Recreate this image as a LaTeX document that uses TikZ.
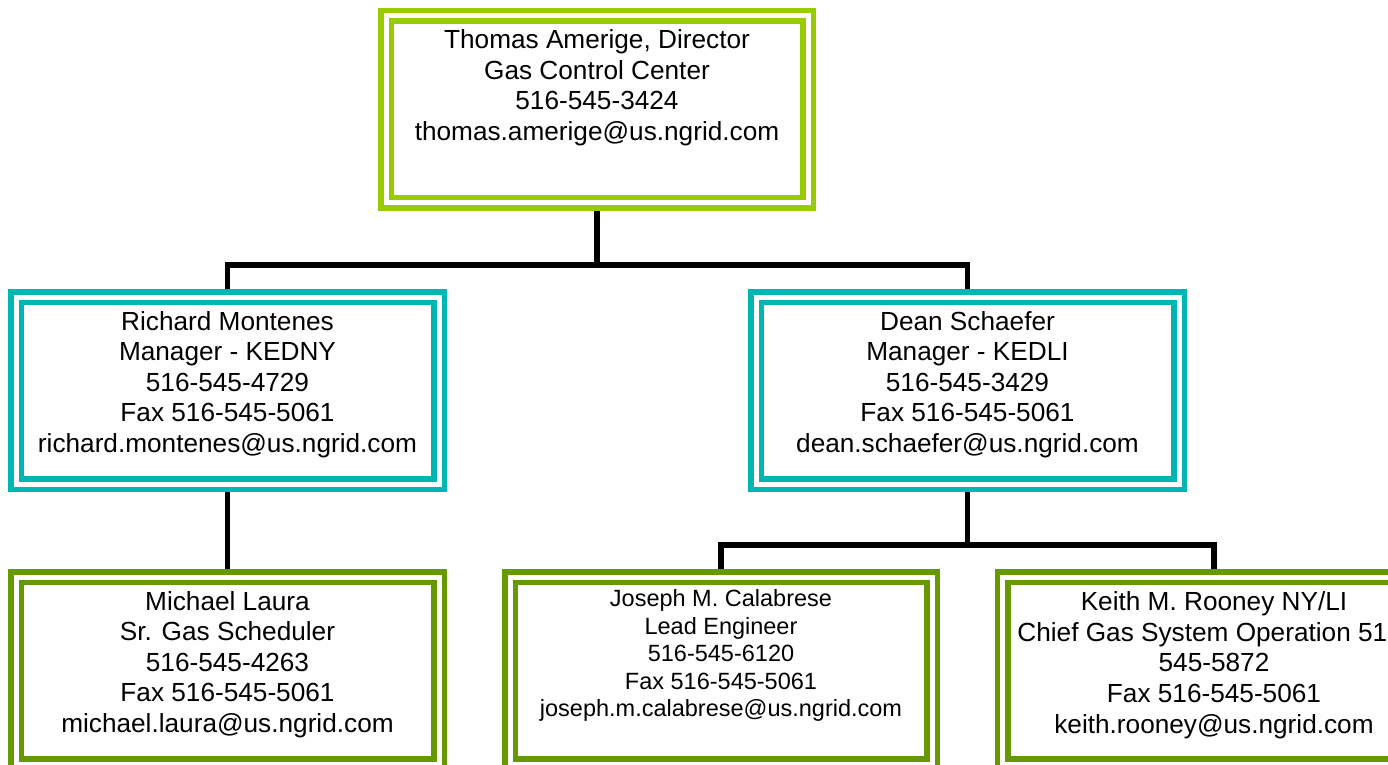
\documentclass[tikz,border=0pt]{standalone}
\usepackage{fontspec}
\setmainfont{Liberation Sans}
\definecolor{limeC}{RGB}{153,204,0}
\definecolor{tealC}{RGB}{0,182,178}
\definecolor{oliveC}{RGB}{102,153,0}
\pgfdeclarelayer{background}
\pgfsetlayers{background,main}
\begin{document}
\begin{tikzpicture}[x=0.5pt,y=-0.5pt,
  box/.style={rectangle, draw=#1, double=white, line width=2.75pt, double distance=2.5pt,
    fill=white, inner sep=0pt, minimum height=93.5pt},
  txt/.style={align=center, anchor=base, inner sep=0pt, font=\fontsize{13.1}{15.3}\selectfont},
  txts/.style={align=center, anchor=base, inner sep=0pt, font=\fontsize{11.75}{13.75}\selectfont},
  conn/.style={draw=black, line width=2.75pt}]
\useasboundingbox (0,0) rectangle (1388,765);
\clip (0,0) rectangle (1388,765);
% boxes
\node[box=limeC, minimum width=211pt] (dir) at (597,109.5) {};
\node[box=tealC, minimum width=211.5pt] (ml) at (227.5,390.5) {};
\node[box=tealC, minimum width=211.5pt] (mr) at (967.5,390.5) {};
\node[box=oliveC, minimum width=211.5pt] (bl) at (227.5,670.5) {};
\node[box=oliveC, minimum width=211pt] (bm) at (721,670.5) {};
\node[box=oliveC, minimum width=211.5pt] (br) at (1214,670.5) {};
% texts (anchor base = baseline of the last line)
\node[txt] (dirt) at (597,140.5) {Thomas Amerige, Director\\Gas Control Center\\516-545-3424\\thomas.amerige@us.ngrid.com};
\node[txt] (mlt) at (227.5,452.5) {Richard Montenes\\Manager - KEDNY\\516-545-4729\\Fax 516-545-5061\\richard.montenes@us.ngrid.com};
\node[txt] (mrt) at (967.5,452.5) {Dean Schaefer\\Manager - KEDLI\\516-545-3429\\Fax 516-545-5061\\dean.schaefer@us.ngrid.com};
\node[txt] (blt) at (227.5,732.5) {Michael Laura\\Sr. Gas Scheduler\\516-545-4263\\Fax 516-545-5061\\michael.laura@us.ngrid.com};
\node[txts] (bmt) at (721,716.7) {Joseph M. Calabrese\\Lead Engineer\\516-545-6120\\Fax 516-545-5061\\joseph.m.calabrese@us.ngrid.com};
\node[txt] (brt) at (1214,733) {Keith M. Rooney NY/LI\\Chief Gas System Operation 516-\\545-5872\\Fax 516-545-5061\\keith.rooney@us.ngrid.com};
% connectors
\begin{pgfonlayer}{background}
\coordinate (j1) at (597,265);
\coordinate (j2) at (967.5,545);
\draw[conn] (dir.center) -- (j1);
\draw[conn] (ml.center) |- (j1) -| (mr.center);
\draw[conn] (ml.center) -- (bl.center);
\draw[conn] (mr.center) -- (j2);
\draw[conn] (bm.center) |- (j2) -| (br.center);
\end{pgfonlayer}
\end{tikzpicture}
\end{document}
